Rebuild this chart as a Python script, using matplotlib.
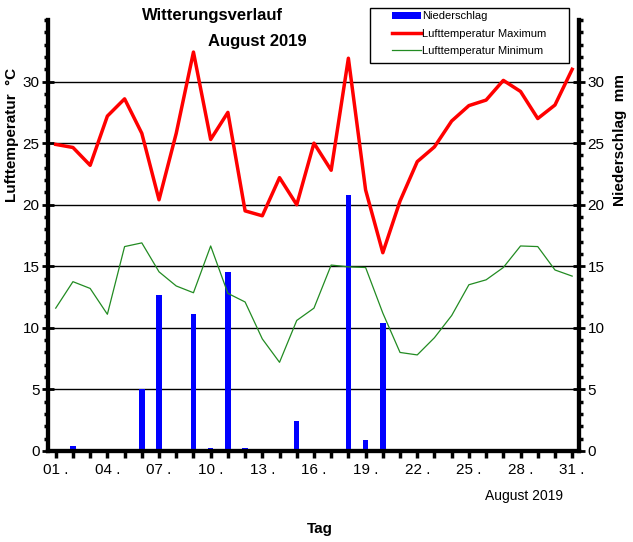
import numpy as np
import matplotlib.pyplot as plt
from matplotlib.ticker import MultipleLocator
from matplotlib.patches import Rectangle

plt.rcParams['font.family'] = ['Liberation Sans', 'DejaVu Sans']

# Tageswerte August 2019
tage = np.arange(1, 32)
niederschlag = [0, 0.4, 0, 0, 0, 5.0, 12.7, 0, 11.1, 0.2, 14.5, 0.2, 0, 0, 2.4, 0,
                0, 20.8, 0.9, 10.4, 0, 0, 0, 0, 0, 0, 0, 0, 0, 0, 0]
t_max = [24.9, 24.65, 23.2, 27.2, 28.6, 25.8, 20.4, 25.8, 32.4, 25.3, 27.5, 19.5,
         19.1, 22.2, 20.0, 25.0, 22.8, 31.9, 21.2, 16.1, 20.3, 23.5, 24.7, 26.8,
         28.05, 28.5, 30.1, 29.2, 27.0, 28.1, 31.0]
t_min = [11.6, 13.75, 13.2, 11.1, 16.6, 16.9, 14.55, 13.4, 12.85, 16.65, 12.8, 12.1,
         9.1, 7.2, 10.6, 11.6, 15.1, 14.95, 14.9, 11.2, 8.0, 7.8, 9.2, 11.0,
         13.5, 13.9, 14.9, 16.65, 16.6, 14.7, 14.2]
xtick_pos = [1, 4, 7, 10, 13, 16, 19, 22, 25, 28, 31]
xtick_lab = ['01 .', '04 .', '07 .', '10 .', '13 .', '16 .', '19 .', '22 .', '25 .', '28 .', '31 .']

fig = plt.figure(figsize=(6.33, 5.42), dpi=100)
ax = fig.add_axes([0.0758, 0.168, 0.839, 0.795])
ax2 = ax.twinx()

for y in [5, 10, 15, 20, 25, 30]:
    ax.axhline(y, color='black', lw=1, zorder=0)

b = ax.bar(tage, niederschlag, width=0.32, color='#0000ff', zorder=2, label='Niederschlag')
l1, = ax.plot(tage, t_max, color='#ff0000', lw=2.5, zorder=3, label='Lufttemperatur Maximum')
l2, = ax.plot(tage, t_min, color='#228b22', lw=0.9, zorder=3, label='Lufttemperatur Minimum')

for a in (ax, ax2):
    a.set_ylim(0, 35)
    a.set_xlim(0.55, 31.4)
    a.yaxis.set_major_locator(MultipleLocator(5))
    a.yaxis.set_minor_locator(MultipleLocator(1))
    for s in a.spines.values():
        s.set_linewidth(3)
    a.spines['top'].set_visible(False)

ax.set_yticks([0, 5, 10, 15, 20, 25, 30])
ax2.set_yticks([0, 5, 10, 15, 20, 25, 30])
ax.tick_params(axis='y', which='major', direction='inout', length=8, width=2, labelsize=11, pad=2)
ax.tick_params(axis='y', which='minor', direction='out', length=3, width=2.5)
ax2.tick_params(axis='y', which='major', direction='inout', length=8, width=2, labelsize=11, pad=2)
ax2.tick_params(axis='y', which='minor', direction='out', length=3, width=2.5)

ax.set_xticks(xtick_pos)
ax.set_xticklabels(xtick_lab)
ax.xaxis.set_minor_locator(MultipleLocator(1))
ax.tick_params(axis='x', which='major', direction='out', length=5, width=2.5, labelsize=11, pad=4)
ax.tick_params(axis='x', which='minor', direction='out', length=5, width=2.5)

fig.text(0.019, 0.751, 'Lufttemperatur  °C', fontsize=11, fontweight='bold',
         rotation=90, ha='center', va='center')
fig.text(0.979, 0.742, 'Niederschlag  mm', fontsize=11, fontweight='bold',
         rotation=90, ha='center', va='center')

fig.text(0.335, 0.972, 'Witterungsverlauf', fontsize=12, fontweight='bold', ha='center', va='center')
fig.text(0.406, 0.924, 'August 2019', fontsize=12, fontweight='bold', ha='center', va='center')
fig.text(0.828, 0.085, 'August 2019', fontsize=10, ha='center', va='center')
fig.text(0.506, 0.024, 'Tag', fontsize=11, fontweight='bold', ha='center', va='center')

# Legende ohne eigenen Rahmen, Rahmen separat (breiter als der Text)
leg = ax.legend([b, l1, l2], ['Niederschlag', 'Lufttemperatur Maximum', 'Lufttemperatur Minimum'],
                loc='upper left', bbox_to_anchor=(0.619, 0.979), bbox_transform=fig.transFigure,
                fontsize=8, frameon=False, handlelength=2.6, handletextpad=0.1,
                borderpad=0.0, labelspacing=0.65, borderaxespad=0)
leg.set_zorder(10)
ax.add_patch(Rectangle((0.5845, 0.8838), 0.3144, 0.1015, transform=fig.transFigure,
                       facecolor='white', edgecolor='black', lw=1, zorder=9, clip_on=False))
ax2.set_zorder(ax.get_zorder() - 1)
ax.patch.set_visible(False)

fig.savefig('out.png', dpi=100)
